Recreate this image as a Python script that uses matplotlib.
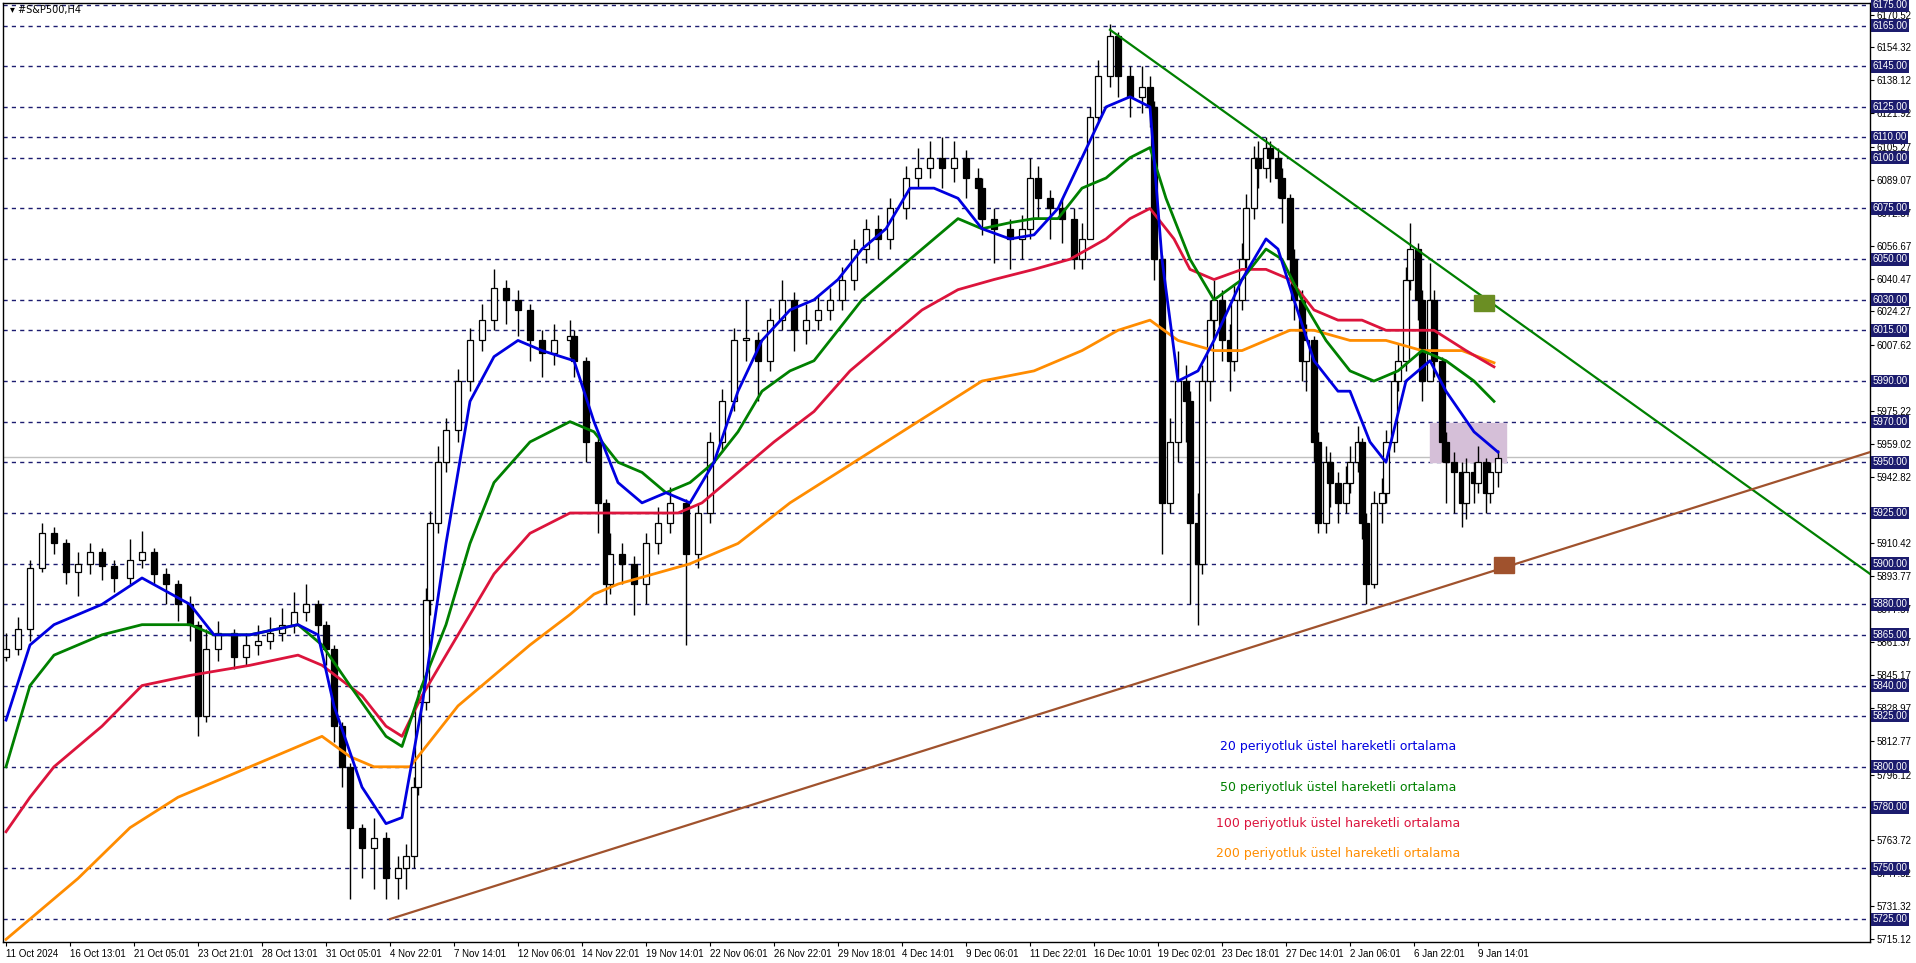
import matplotlib
matplotlib.use("Agg")
import matplotlib.pyplot as plt
from matplotlib.patches import Rectangle
from matplotlib.transforms import blended_transform_factory

# H4 bar number of each drawn candle
bars = [0, 3, 6, 9, 12, 15, 18, 21, 24, 27, 31, 34, 37, 40, 43, 46, 48, 50, 53, 57,
        60, 63, 66, 69, 72, 75, 78, 80, 82, 84, 86, 89, 92, 95, 98, 100, 102, 103, 105, 106,
        108, 110, 113, 116, 119, 122, 125, 128, 131, 134, 137, 141, 142, 145, 148, 150, 151, 154, 157, 160,
        163, 166, 170, 173, 176, 179, 182, 185, 188, 191, 194, 197, 200, 203, 206, 209, 212, 215, 218, 221,
        225, 228, 231, 234, 237, 240, 243, 244, 247, 251, 254, 256, 258, 261, 264, 267, 269, 271, 273, 276,
        278, 281, 284, 286, 287, 289, 291, 293, 295, 296, 298, 299, 301, 302, 304, 306, 307, 309, 310, 312,
        313, 315, 316, 318, 319, 321, 322, 324, 325, 327, 328, 330, 331, 333, 335, 336, 338, 339, 340, 342,
        344, 345, 347, 348, 350, 351, 353, 354, 356, 357, 359, 360, 362, 364, 365, 367, 368, 370, 371, 373]
close = [5858, 5868, 5898, 5915, 5910, 5896, 5900, 5906, 5899, 5893, 5902, 5906, 5895, 5890, 5880, 5870, 5825, 5858, 5866, 5854,
         5860, 5862, 5866, 5870, 5876, 5880, 5870, 5858, 5820, 5800, 5770, 5760, 5765, 5745, 5750, 5756, 5790, 5832, 5882, 5920,
         5950, 5966, 5990, 6010, 6020, 6036, 6030, 6025, 6010, 6004, 6010, 6012, 6000, 5960, 5930, 5890, 5905, 5900, 5890, 5910,
         5920, 5930, 5905, 5925, 5960, 5980, 6010, 6010, 6000, 6020, 6030, 6015, 6020, 6025, 6030, 6040, 6055, 6065, 6060, 6075,
         6090, 6095, 6100, 6095, 6100, 6090, 6085, 6070, 6065, 6060, 6065, 6090, 6080, 6075, 6070, 6050, 6060, 6120, 6140, 6160,
         6140, 6130, 6135, 6125, 6050, 5930, 5960, 5990, 5980, 5920, 5900, 5990, 6020, 6030, 6010, 6000, 6030, 6050, 6075, 6100,
         6095, 6105, 6100, 6090, 6080, 6050, 6030, 6000, 6010, 5960, 5920, 5950, 5940, 5930, 5940, 5950, 5960, 5920, 5890, 5930,
         5935, 5960, 5990, 6000, 6040, 6055, 6030, 5990, 6030, 6000, 5960, 5950, 5945, 5930, 5945, 5940, 5950, 5935, 5945, 5952]
high = [5866, 5874, 5902, 5920, 5918, 5912, 5906, 5910, 5908, 5902, 5912, 5916, 5908, 5898, 5892, 5884, 5872, 5868, 5872, 5868,
        5866, 5870, 5874, 5878, 5886, 5890, 5882, 5872, 5860, 5822, 5802, 5772, 5775, 5768, 5756, 5762, 5795, 5838, 5888, 5926,
        5958, 5972, 5996, 6016, 6028, 6045, 6040, 6035, 6028, 6015, 6018, 6020, 6015, 6002, 5962, 5932, 5915, 5910, 5904, 5915,
        5928, 5938, 5932, 5930, 5965, 5986, 6016, 6030, 6014, 6026, 6040, 6034, 6028, 6032, 6036, 6046, 6060, 6070, 6072, 6080,
        6096, 6105, 6108, 6110, 6108, 6104, 6095, 6090, 6075, 6070, 6072, 6100, 6096, 6084, 6080, 6075, 6068, 6125, 6148, 6166,
        6162, 6145, 6145, 6140, 6128, 6052, 5972, 6005, 5998, 5985, 5935, 5998, 6030, 6040, 6035, 6018, 6038, 6058, 6082, 6106,
        6108, 6110, 6108, 6105, 6095, 6082, 6055, 6035, 6018, 6012, 5965, 5958, 5955, 5945, 5948, 5958, 5968, 5962, 5925, 5936,
        5942, 5966, 5995, 6008, 6046, 6068, 6058, 6035, 6048, 6035, 6002, 5965, 5955, 5950, 5952, 5950, 5958, 5952, 5950, 5956]
low = [5852, 5855, 5862, 5896, 5905, 5890, 5884, 5895, 5892, 5886, 5890, 5898, 5890, 5880, 5872, 5862, 5815, 5822, 5852, 5848,
       5850, 5855, 5858, 5862, 5866, 5872, 5862, 5850, 5812, 5790, 5735, 5745, 5740, 5735, 5735, 5740, 5750, 5786, 5828, 5875,
       5915, 5945, 5960, 5985, 6005, 6015, 6018, 6012, 6000, 5992, 5998, 6002, 5992, 5950, 5915, 5880, 5885, 5890, 5875, 5880,
       5905, 5915, 5860, 5898, 5920, 5955, 5975, 6000, 5980, 5995, 6015, 6005, 6008, 6015, 6020, 6025, 6035, 6048, 6050, 6055,
       6070, 6085, 6090, 6085, 6088, 6080, 6070, 6062, 6048, 6045, 6050, 6060, 6070, 6060, 6058, 6045, 6045, 6118, 6118, 6135,
       6130, 6120, 6122, 6115, 6040, 5905, 5925, 5950, 5960, 5880, 5870, 5895, 5980, 6010, 6000, 5985, 5995, 6025, 6045, 6070,
       6085, 6090, 6088, 6080, 6068, 6040, 6020, 5990, 5985, 5950, 5915, 5915, 5928, 5920, 5925, 5935, 5945, 5912, 5880, 5888,
       5920, 5930, 5955, 5985, 5995, 6035, 6020, 5980, 5990, 5992, 5950, 5930, 5925, 5918, 5922, 5930, 5935, 5925, 5930, 5938]

# exponential moving averages (bar, price)
ema20_bar = [0, 6, 12, 24, 34, 46, 52, 61, 73, 78, 82, 89, 95, 99, 104, 110, 116, 122, 128, 134, 142, 147, 153, 159, 165,
             171, 177, 183, 189, 196, 202, 208, 214, 220, 226, 232, 238, 244, 251, 257, 263, 269, 275, 281, 286, 289, 293,
             298, 302, 309, 315, 318, 322, 327, 333, 336, 341, 345, 350, 356, 360, 367, 373]
ema20 = [5823, 5860, 5870, 5880, 5893, 5880, 5865, 5865, 5870, 5865, 5830, 5790, 5772, 5775, 5830, 5910, 5980, 6002, 6010,
         6005, 6000, 5970, 5940, 5930, 5935, 5930, 5950, 5985, 6010, 6025, 6030, 6040, 6055, 6065, 6085, 6085, 6080, 6065,
         6060, 6062, 6075, 6100, 6125, 6130, 6125, 6050, 5990, 5995, 6010, 6040, 6060, 6055, 6030, 6000, 5985, 5985, 5960,
         5950, 5990, 6000, 5985, 5965, 5955]
ema50_bar = [0, 6, 12, 24, 34, 46, 52, 61, 73, 79, 86, 95, 99, 104, 110, 116, 122, 131, 141, 147, 153, 159, 165, 171, 177,
             183, 189, 196, 202, 208, 214, 220, 226, 232, 238, 244, 251, 257, 263, 269, 275, 281, 286, 290, 296, 302, 309,
             315, 319, 324, 330, 336, 342, 348, 354, 360, 367, 372]
ema50 = [5800, 5840, 5855, 5865, 5870, 5870, 5865, 5865, 5870, 5860, 5840, 5815, 5810, 5840, 5870, 5910, 5940, 5960, 5970,
         5965, 5950, 5945, 5935, 5940, 5950, 5965, 5985, 5995, 6000, 6015, 6030, 6040, 6050, 6060, 6070, 6065, 6068, 6070,
         6070, 6085, 6090, 6100, 6105, 6080, 6050, 6030, 6040, 6055, 6050, 6030, 6010, 5995, 5990, 5995, 6005, 6000, 5990, 5980]
ema100_bar = [0, 6, 12, 24, 34, 46, 61, 73, 79, 89, 95, 99, 104, 110, 116, 122, 131, 141, 150, 159, 168, 174, 183, 192,
              202, 211, 220, 229, 238, 247, 257, 266, 275, 281, 286, 292, 296, 302, 309, 315, 321, 327, 333, 339, 345, 351,
              357, 365, 372]
ema100 = [5768, 5785, 5800, 5820, 5840, 5845, 5850, 5855, 5850, 5835, 5820, 5815, 5835, 5855, 5875, 5895, 5915, 5925, 5925,
          5925, 5925, 5930, 5945, 5960, 5975, 5995, 6010, 6025, 6035, 6040, 6045, 6050, 6060, 6070, 6075, 6060, 6045, 6040,
          6045, 6045, 6040, 6025, 6020, 6020, 6015, 6015, 6015, 6005, 5997]
ema200_bar = [0, 6, 18, 31, 43, 55, 67, 79, 86, 92, 101, 105, 113, 122, 131, 141, 147, 153, 162, 171, 183, 196, 208, 220,
              232, 244, 257, 269, 278, 286, 293, 302, 309, 315, 321, 327, 336, 345, 354, 364, 372]
ema200 = [5715, 5725, 5745, 5770, 5785, 5795, 5805, 5815, 5805, 5800, 5800, 5810, 5830, 5845, 5860, 5875, 5885, 5890, 5895,
          5900, 5910, 5930, 5945, 5960, 5975, 5990, 5995, 6005, 6015, 6020, 6010, 6005, 6005, 6010, 6015, 6015, 6010, 6010,
          6005, 6005, 5999]

levels = [6175, 6165, 6145, 6125, 6110, 6100, 6075, 6050, 6030, 6015, 5990, 5970, 5950, 5925, 5900, 5880,
          5865, 5840, 5825, 5800, 5780, 5750, 5725]
axis_ticks = [6170.52, 6154.32, 6138.12, 6121.92, 6105.27, 6089.07, 6072.87, 6056.67, 6040.47, 6024.27, 6007.62,
              5975.22, 5959.02, 5942.82, 5910.42, 5893.77, 5877.57, 5861.37, 5845.17, 5828.97, 5812.77, 5796.12,
              5763.72, 5747.52, 5731.32, 5715.12]
date_labels = ["11 Oct 2024", "16 Oct 13:01", "21 Oct 05:01", "23 Oct 21:01", "28 Oct 13:01", "31 Oct 05:01",
               "4 Nov 22:01", "7 Nov 14:01", "12 Nov 06:01", "14 Nov 22:01", "19 Nov 14:01", "22 Nov 06:01",
               "26 Nov 22:01", "29 Nov 18:01", "4 Dec 14:01", "9 Dec 06:01", "11 Dec 22:01", "16 Dec 10:01",
               "19 Dec 02:01", "23 Dec 18:01", "27 Dec 14:01", "2 Jan 06:01", "6 Jan 22:01", "9 Jan 14:01"]
legend_labels = ["20 periyotluk üstel hareketli ortalama", "50 periyotluk üstel hareketli ortalama",
                 "100 periyotluk üstel hareketli ortalama", "200 periyotluk üstel hareketli ortalama"]
legend_price = [5810, 5790, 5772, 5757.5]
down_trend = ([276, 466], [6163, 5895])
up_trend = ([96, 466], [5725, 5955])
last_price = 5952.6

plt.rcParams["font.family"] = "Liberation Sans"
fig = plt.figure(figsize=(19.16, 9.63), dpi=100)
ax = fig.add_axes([3 / 1916, 21 / 963, 1867 / 1916, 939 / 963])
ax.set_xlim(-0.75, 466)
ax.set_ylim(5713.7, 6176.2)

for lv in levels:
    ax.axhline(lv, color="#1c1c70", lw=1, ls=(0, (3, 3)), zorder=1)
ax.axhline(last_price, color="#c0c0c0", lw=1, zorder=1)

# purple zone
ax.add_patch(Rectangle((356, 5950), 19, 19.5, color="#d5bfd8", zorder=2))

# candles
opens = [close[0] - 4] + close[:-1]
bw = 1.3
for b, o, h, l, c in zip(bars, opens, high, low, close):
    ax.vlines(b, l, h, color="black", lw=1, zorder=3)
    lo_, hi_ = min(o, c), max(o, c)
    if hi_ - lo_ < 1:
        hi_ = lo_ + 1
    face = "white" if c >= o else "black"
    ax.add_patch(Rectangle((b - bw / 2, lo_), bw, hi_ - lo_, facecolor=face,
                           edgecolor="black", lw=0.9, zorder=4))

ema_colors = ["#0000e0", "#008000", "#dc143c", "#ff8c00"]
ax.plot(ema200_bar, ema200, color=ema_colors[3], lw=2, zorder=5)
ax.plot(ema100_bar, ema100, color=ema_colors[2], lw=2, zorder=5)
ax.plot(ema50_bar, ema50, color=ema_colors[1], lw=2, zorder=5)
ax.plot(ema20_bar, ema20, color=ema_colors[0], lw=2, zorder=5)

ax.plot(*down_trend, color="#008000", lw=1.6, zorder=6)
ax.plot(*up_trend, color="#a0522d", lw=1.6, zorder=6)
ax.add_patch(Rectangle((367, 6024.5), 5, 8, color="#6b8e23", zorder=7))
ax.add_patch(Rectangle((372, 5895.5), 5, 8, color="#a0522d", zorder=7))

# legend texts
for txt, col, yv in zip(legend_labels, ema_colors, legend_price):
    ax.text(333, yv, txt, color=col, fontsize=9, ha="center", va="center",
            family="DejaVu Sans")

ax.text(0.004, 0.998, "\u25be #S&P500,H4", transform=ax.transAxes, fontsize=7,
        ha="left", va="top", family="DejaVu Sans")

# right price axis
ax.yaxis.tick_right()
ax.set_yticks(axis_ticks)
ax.set_yticklabels([f"{t:.2f}" for t in axis_ticks], fontsize=7)
ax.tick_params(axis="y", length=3, pad=2)
tr = blended_transform_factory(ax.transAxes, ax.transData)
for lv in levels:
    ax.text(1.0012, lv, f"{lv:.2f}", transform=tr, fontsize=7, color="white", va="center",
            ha="left", bbox=dict(boxstyle="square,pad=0.15", fc="#1c1c6e", ec="none"), zorder=10,
            clip_on=False)

ax.set_xticks([16 * i for i in range(len(date_labels))])
ax.set_xticklabels(date_labels, fontsize=7, ha="left")
ax.tick_params(axis="x", length=3, pad=2)
for s in ax.spines.values():
    s.set_linewidth(1)

fig.savefig("out.png", dpi=100)
